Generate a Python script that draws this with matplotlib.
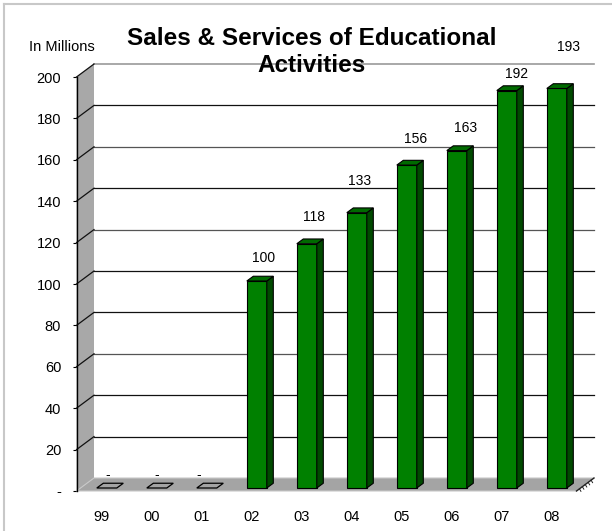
import matplotlib
matplotlib.use("Agg")
import matplotlib.pyplot as plt
from matplotlib.patches import Polygon, Rectangle
from matplotlib.lines import Line2D

plt.rcParams['font.family'] = ['Liberation Sans', 'DejaVu Sans']

# ---------------- data ----------------
categories = ['99', '00', '01', '02', '03', '04', '05', '06', '07', '08']
values = [0, 0, 0, 100, 118, 133, 156, 163, 192, 193]
value_labels = ['-', '-', '-', '100', '118', '133', '156', '163', '192', '193']
ytick_values = [0, 20, 40, 60, 80, 100, 120, 140, 160, 180, 200]
ytick_labels = ['-', '20', '40', '60', '80', '100', '120', '140', '160', '180', '200']
title = 'Sales & Services of Educational\nActivities'
unit_label = 'In Millions'

# ---------------- layout / style ----------------
W, H = 612, 531
fig = plt.figure(figsize=(W / 100, H / 100), dpi=100)
ax = fig.add_axes([76.5 / W, (H - 491) / H, 500 / W, 414 / H])
ax.set_xlim(-0.5, len(categories) - 0.5)
ax.set_ylim(0, 200)

DX, DY = 0.35, 6.28          # depth of the 3-D box (category units, value units)
BDX, BDY = 0.13, 2.3         # depth of each bar
BASE = 1.45                  # bars stand slightly behind the front edge
BAR_LEFT, BAR_W = -0.094, 0.40
FRONT, SIDE, TOP = '#008000', '#004a00', '#006a00'
WALL = '#a8a8a8'
FLOOR = '#a4a4a4'

# per-label placement tweaks (category units, value units above the bar)
label_dx = [0.12, 0.10, -0.05, 0.25, 0.26, 0.17, 0.28, 0.28, 0.31, 0.33]
label_dy = [7.7, 7.7, 7.7, 12.6, 14.5, 16.9, 13.9, 12.2, 9.3, 21.3]

x0, x1 = -0.5, len(categories) - 0.5

# back-wall gridlines
grid_colors = {200: '#9a9a9a', 160: '#555555', 120: '#555555', 60: '#555555'}
for v in ytick_values[1:]:
    c = grid_colors.get(v, '#111111')
    ax.add_line(Line2D([x0 + DX, x1 + DX], [v + DY, v + DY], color=c,
                       lw=1.2 if v == 200 else 0.9, clip_on=False, zorder=1))

# side wall
ax.add_patch(Polygon([(x0, 0), (x0, 200), (x0 + DX, 200 + DY), (x0 + DX, DY)],
                     closed=True, facecolor=WALL, edgecolor='none',
                     clip_on=False, zorder=2))
for v in ytick_values[1:]:
    ax.add_line(Line2D([x0, x0 + DX], [v, v + DY], color='#111111', lw=0.9,
                       clip_on=False, zorder=3))

# floor
ax.add_patch(Polygon([(x0, 0), (x1, 0), (x1 + DX, DY), (x0 + DX, DY)],
                     closed=True, facecolor=FLOOR, edgecolor='#c8c8c8', lw=0.8,
                     clip_on=False, zorder=2))
# depth axis at the right end of the floor
ax.add_line(Line2D([x1, x1 + DX], [0, DY], color='#222222', lw=1.0,
                   clip_on=False, zorder=3))
for k in range(1, 6):
    t = k / 6
    ax.add_line(Line2D([x1 + DX * t, x1 + DX * t + 0.03],
                       [DY * t, DY * t - 1.2], color='#222222', lw=0.7,
                       clip_on=False, zorder=3))

# bars
for i, v in enumerate(values):
    xl = i + BAR_LEFT
    xr = xl + BAR_W
    y0 = BASE
    y1 = BASE + v
    if v > 0:
        ax.add_patch(Rectangle((xl, y0), BAR_W, v, facecolor=FRONT,
                               edgecolor='black', lw=0.8, clip_on=False, zorder=5))
        ax.add_patch(Polygon([(xr, y0), (xr + BDX, y0 + BDY), (xr + BDX, y1 + BDY), (xr, y1)],
                             closed=True, facecolor=SIDE, edgecolor='black', lw=0.8,
                             clip_on=False, zorder=5))
        ax.add_patch(Polygon([(xl, y1), (xr, y1), (xr + BDX, y1 + BDY), (xl + BDX, y1 + BDY)],
                             closed=True, facecolor=TOP, edgecolor='black', lw=0.8,
                             clip_on=False, zorder=5))
    else:
        ax.add_patch(Polygon([(xl, y1), (xr, y1), (xr + BDX, y1 + BDY), (xl + BDX, y1 + BDY)],
                             closed=True, facecolor='none', edgecolor='black', lw=0.9,
                             clip_on=False, zorder=5))
    ax.text(i + label_dx[i], v + label_dy[i], value_labels[i], ha='center', va='center',
            fontsize=10, color='black', zorder=6)

# axes decoration
for s in ['top', 'right', 'bottom']:
    ax.spines[s].set_visible(False)
ax.spines['left'].set_color('black')
ax.spines['left'].set_linewidth(1.0)
ax.spines['left'].set_zorder(4)
ax.patch.set_visible(False)
ax.set_yticks(ytick_values)
ax.set_yticklabels(ytick_labels, fontsize=10.5)
ax.tick_params(axis='y', direction='out', length=3, width=0.8, pad=8)
ax.set_xticks(range(len(categories)))
ax.set_xticklabels(categories, fontsize=10.5)
ax.tick_params(axis='x', length=0, pad=14)

# titles
fig.text(312 / W, 1 - 52 / H, title, ha='center', va='center', fontsize=17.5,
         fontweight='bold', linespacing=1.2, zorder=10)
fig.text(29 / W, 1 - 47 / H, unit_label, ha='left', va='center', fontsize=10.5)

# image border (top and left)
fig.add_artist(Line2D([4 / W, 1], [1 - 4 / H, 1 - 4 / H], transform=fig.transFigure,
                      color='#c8c8c8', lw=1.5))
fig.add_artist(Line2D([4 / W, 4 / W], [0, 1 - 4 / H], transform=fig.transFigure,
                      color='#c8c8c8', lw=1.5))

fig.savefig('out.png', dpi=100)
